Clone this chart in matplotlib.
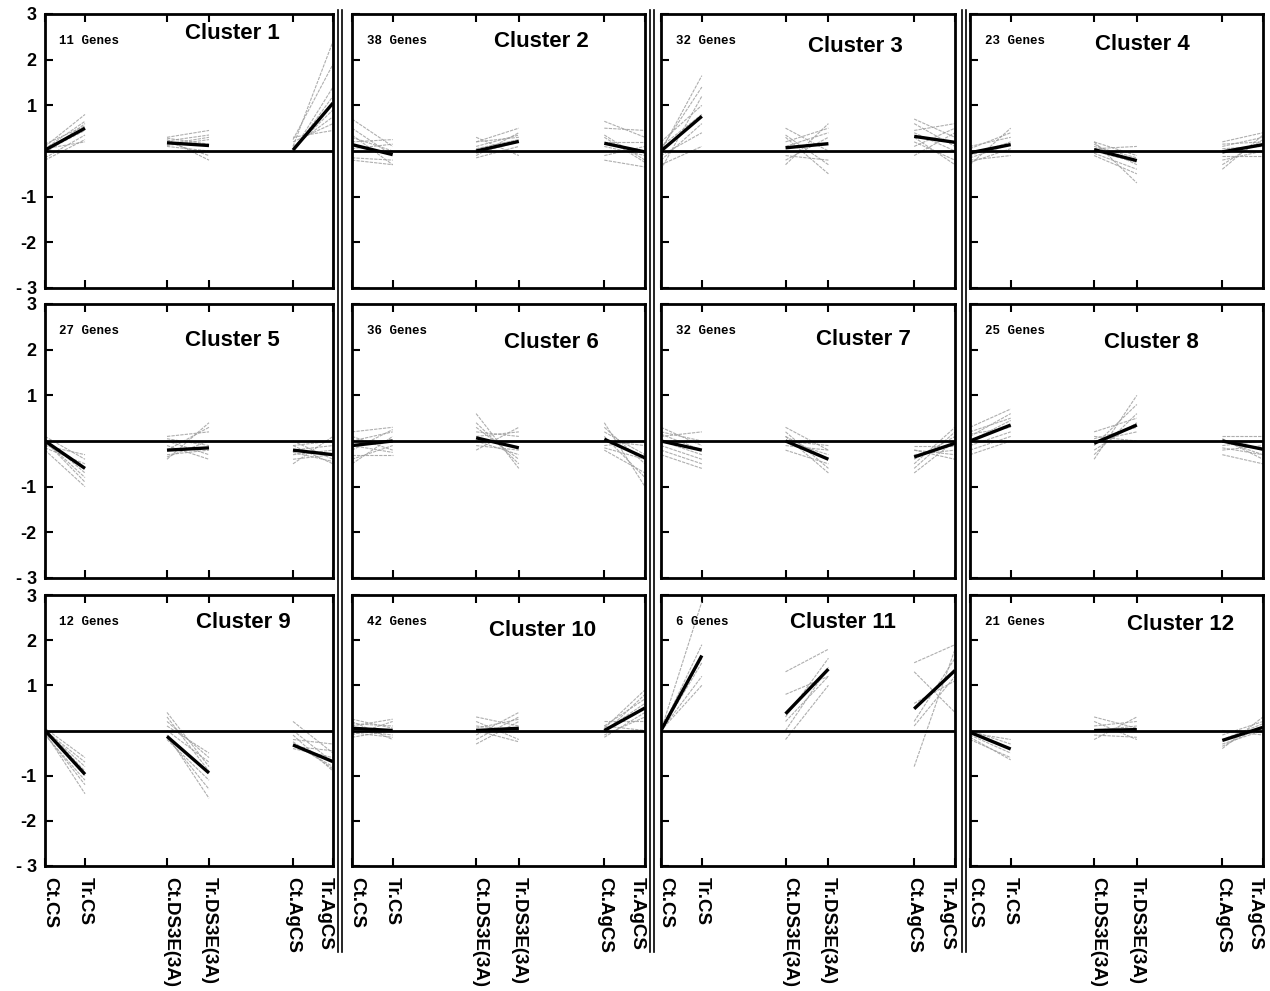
import numpy as np
import matplotlib
matplotlib.use("Agg")
import matplotlib.pyplot as plt
from matplotlib.lines import Line2D
from matplotlib.transforms import ScaledTranslation

conditions = ["Ct.CS", "Tr.CS", "Ct.DS3E(3A)", "Tr.DS3E(3A)", "Ct.AgCS", "Tr.AgCS"]
xpos = [0, 1, 3.05, 4.1, 6.2, 7.2]

gene_counts = [11, 38, 32, 23, 27, 36, 32, 25, 12, 42, 6, 21]

# mean profile of each cluster (black line)
means = [
    [0.02, 0.50, 0.18, 0.12, 0.02, 1.05],
    [0.14, -0.08, 0.00, 0.21, 0.17, -0.02],
    [0.00, 0.76, 0.07, 0.16, 0.32, 0.19],
    [-0.04, 0.14, 0.03, -0.21, -0.02, 0.14],
    [0.00, -0.60, -0.20, -0.15, -0.20, -0.30],
    [-0.10, 0.00, 0.07, -0.15, 0.04, -0.37],
    [0.00, -0.20, 0.00, -0.40, -0.35, -0.05],
    [0.00, 0.35, -0.05, 0.35, 0.00, -0.18],
    [0.00, -0.97, -0.13, -0.94, -0.32, -0.69],
    [0.05, 0.00, 0.00, 0.05, 0.00, 0.50],
    [0.00, 1.66, 0.37, 1.36, 0.48, 1.33],
    [-0.04, -0.41, 0.00, 0.02, -0.22, 0.07],
]

# individual gene profiles (grey lines), a readable subset per cluster
genes_01 = [[-0.15, 0.35, 0.25, -0.2, 0.1, 2.4], [0.1, 0.8, 0.3, 0.45, 0.25, 1.9],
            [0.05, 0.65, 0.15, 0.3, 0.0, 1.4], [-0.2, 0.25, 0.1, 0.0, 0.05, 0.9],
            [0.15, 0.55, 0.22, 0.35, 0.2, 0.6], [0.0, 0.45, 0.2, -0.1, 0.0, 1.2],
            [-0.05, 0.6, 0.12, 0.25, 0.3, 0.45], [0.05, 0.2, 0.28, 0.15, 0.1, 0.75]]
genes_02 = [[0.7, 0.1, -0.1, 0.4, 0.65, 0.3], [0.35, -0.3, 0.2, 0.5, 0.5, 0.45],
            [0.2, 0.25, -0.15, 0.1, -0.2, -0.35], [-0.15, -0.2, 0.1, 0.35, 0.3, -0.25],
            [0.3, 0.0, 0.3, -0.1, 0.2, 0.2], [-0.2, -0.3, 0.05, 0.25, 0.1, -0.1],
            [0.5, -0.1, 0.2, 0.3, -0.1, 0.1], [0.05, 0.15, -0.05, 0.2, 0.35, -0.2]]
genes_03 = [[0.0, 1.65, 0.3, -0.5, 0.7, 0.3], [-0.4, 1.2, -0.3, 0.6, 0.45, 0.6],
            [0.2, 1.0, 0.5, 0.0, 0.3, -0.3], [-0.1, 0.4, 0.1, 0.4, -0.1, 0.4],
            [0.1, 0.8, -0.2, 0.3, 0.6, 0.1], [-0.3, 0.1, 0.35, -0.3, 0.2, -0.2],
            [0.05, 1.4, 0.2, 0.5, 0.1, 0.5], [-0.2, 0.6, -0.1, -0.2, 0.4, 0.0]]
genes_04 = [[-0.3, 0.5, 0.2, -0.7, -0.4, 0.35], [0.1, 0.3, 0.15, -0.3, 0.15, 0.2],
            [-0.2, -0.1, -0.1, -0.5, -0.2, 0.0], [-0.1, 0.2, 0.05, 0.1, 0.2, 0.4],
            [-0.25, 0.05, 0.1, -0.15, -0.1, -0.1], [0.05, 0.4, -0.05, -0.4, 0.05, 0.1],
            [-0.15, 0.15, 0.2, -0.1, -0.3, 0.25], [0.0, 0.0, 0.0, -0.25, 0.1, 0.3]]
genes_05 = [[0.1, -0.4, -0.4, 0.4, -0.5, 0.1], [-0.2, -1.0, -0.1, -0.4, -0.1, -0.5],
            [0.0, -0.8, 0.1, 0.2, -0.3, -0.2], [-0.1, -0.3, -0.3, -0.2, 0.0, -0.4],
            [0.05, -0.7, -0.2, 0.3, -0.2, -0.1], [-0.15, -0.5, 0.0, -0.3, -0.4, -0.3],
            [0.0, -0.9, -0.35, 0.0, -0.1, 0.0], [-0.05, -0.6, 0.05, -0.1, -0.25, -0.45]]
genes_06 = [[-0.5, 0.1, 0.6, -0.6, 0.4, -1.0], [0.2, 0.3, -0.2, 0.3, 0.2, -0.3],
            [-0.3, -0.3, 0.3, -0.4, -0.2, -0.7], [0.0, 0.2, 0.1, 0.2, 0.0, -0.1],
            [-0.4, -0.1, -0.1, -0.2, 0.3, -0.5], [0.1, -0.2, 0.4, -0.5, -0.1, 0.0],
            [-0.2, 0.25, 0.2, 0.1, 0.1, -0.8], [-0.1, -0.25, 0.0, -0.3, -0.15, -0.4]]
genes_07 = [[0.3, -0.1, 0.3, -0.2, -0.6, 0.2], [-0.2, -0.5, 0.1, -0.7, -0.2, -0.3],
            [0.1, 0.2, -0.2, -0.5, -0.4, 0.1], [0.0, -0.3, 0.0, -0.3, -0.1, -0.1],
            [-0.3, -0.6, 0.2, -0.6, -0.5, 0.3], [0.2, 0.0, -0.1, -0.2, -0.3, -0.2],
            [-0.1, -0.4, 0.1, -0.4, -0.7, 0.0], [0.15, -0.2, 0.0, -0.1, -0.2, -0.4]]
genes_08 = [[-0.3, 0.0, -0.4, 1.0, -0.3, -0.5], [0.3, 0.7, 0.2, 0.5, 0.1, 0.1],
            [0.2, 0.5, -0.1, 0.8, 0.0, -0.3], [-0.1, 0.2, 0.0, 0.2, -0.2, -0.1],
            [0.1, 0.6, -0.2, 0.4, 0.05, -0.4], [-0.2, 0.1, 0.1, 0.0, -0.1, 0.0],
            [0.0, 0.45, -0.3, 0.6, 0.0, -0.2], [0.15, 0.3, 0.05, 0.3, -0.15, -0.3]]
genes_09 = [[-0.05, -1.4, 0.4, -0.8, 0.2, -0.5], [0.05, -0.6, -0.1, -1.5, -0.1, -0.9],
            [-0.1, -1.1, 0.2, -0.6, -0.4, -0.6], [0.0, -0.8, -0.2, -1.1, -0.2, -0.3],
            [0.02, -1.0, 0.1, -0.5, -0.3, -0.8], [-0.08, -1.2, -0.15, -1.3, 0.0, -0.7],
            [0.0, -0.7, 0.3, -0.9, -0.35, -0.45], [0.03, -0.9, 0.0, -0.7, -0.25, -0.85]]
genes_10 = [[0.2, -0.2, -0.2, 0.3, 0.05, 0.9], [-0.1, 0.2, 0.2, -0.2, -0.1, 0.3],
            [0.15, 0.1, -0.1, 0.4, 0.1, 0.7], [-0.05, -0.15, 0.3, 0.1, -0.15, 0.4],
            [0.25, 0.05, 0.0, -0.25, 0.0, 0.6], [0.0, -0.1, -0.3, 0.2, 0.2, 0.2],
            [0.1, 0.25, 0.1, 0.0, -0.05, 0.8], [-0.15, 0.0, 0.05, 0.25, 0.1, 0.0]]
genes_11 = [[0.0, 2.85, 1.3, 1.8, 1.5, 1.9], [0.0, 1.9, -0.2, 1.0, -0.8, 1.8],
            [0.0, 1.5, 0.3, 1.6, 0.6, 1.1], [0.0, 1.2, 0.0, 1.4, 1.3, 0.4],
            [0.0, 1.0, 0.8, 1.2, 0.2, 1.6], [0.0, 1.6, 0.2, 1.2, 0.1, 1.2]]
genes_12 = [[-0.2, -0.6, -0.2, 0.3, -0.4, 0.3], [0.0, -0.3, 0.2, -0.2, -0.3, 0.0],
            [-0.1, -0.5, 0.0, 0.1, -0.1, 0.2], [-0.05, -0.2, 0.3, 0.05, -0.35, 0.1],
            [-0.15, -0.65, -0.1, -0.15, 0.0, -0.1], [0.0, -0.4, 0.1, 0.2, -0.2, 0.15]]

genes = [genes_01, genes_02, genes_03, genes_04, genes_05, genes_06,
         genes_07, genes_08, genes_09, genes_10, genes_11, genes_12]

# layout in pixels (figure 1270 x 991)
W, H = 1270, 991
cols = [(45, 333), (352, 645), (661, 955), (970, 1263)]
rows = [(14, 288), (304, 578), (595, 866)]
title_pos = [(0.65, 0.93), (0.645, 0.90), (0.66, 0.88), (0.59, 0.89),
             (0.65, 0.865), (0.68, 0.86), (0.69, 0.87), (0.62, 0.86),
             (0.69, 0.90), (0.65, 0.87), (0.62, 0.90), (0.72, 0.89)]
label_nudge = [5, 0, 4, 0, 0, -8]  # px, end labels pulled inwards

narrow = ["Liberation Sans Narrow", "Liberation Sans", "DejaVu Sans"]
mono = ["Liberation Mono", "DejaVu Sans Mono"]
bold_sans = ["Liberation Sans", "DejaVu Sans"]

fig = plt.figure(figsize=(W / 100, H / 100), dpi=100)

for k in range(12):
    r, c = divmod(k, 4)
    x0, x1 = cols[c]
    y0, y1 = rows[r]
    ax = fig.add_axes([x0 / W, 1 - y1 / H, (x1 - x0) / W, (y1 - y0) / H])
    ax.set_xlim(0, 7.2)
    ax.set_ylim(-3, 3)

    for g in genes[k]:
        for s in range(3):
            ax.plot(xpos[2 * s:2 * s + 2], g[2 * s:2 * s + 2], color="#9a9a9a",
                    lw=0.8, alpha=0.8, ls=(0, (3, 1)))
    ax.axhline(0, color="black", lw=2)
    m = means[k]
    for s in range(3):
        ax.plot(xpos[2 * s:2 * s + 2], m[2 * s:2 * s + 2], color="black", lw=2.4,
                solid_capstyle="butt")

    for sp in ax.spines.values():
        sp.set_linewidth(2)

    ax.set_xticks(xpos)
    ax.set_yticks([-3, -2, -1, 1, 2, 3])
    ax.tick_params(axis="x", direction="in", top=True, bottom=True, length=6, width=1.5)
    ax.tick_params(axis="y", direction="in", left=True, right=False, length=6, width=1.5)

    if c == 0:
        ax.set_yticklabels(["- 3", "-2", "-1", "1", "2", "3"], family=bold_sans,
                           fontweight="bold", fontsize=13)
        ax.tick_params(axis="y", pad=6)
    else:
        ax.set_yticklabels([])
    if r == 2:
        ax.set_xticklabels(conditions, rotation=-90, family=narrow, fontweight="bold",
                           fontsize=13.5, va="top", ha="center")
        ax.tick_params(axis="x", pad=8)
        for lab, dx in zip(ax.get_xticklabels(), label_nudge):
            lab.set_transform(lab.get_transform() +
                              ScaledTranslation(dx / 100, 0, fig.dpi_scale_trans))
    else:
        ax.set_xticklabels([])

    ax.text(0.05, 0.9, f"{gene_counts[k]} Genes", transform=ax.transAxes, family=mono,
            fontweight="bold", fontsize=9, va="center", ha="left")
    tx, ty = title_pos[k]
    ax.text(tx, ty, f"Cluster {k + 1}", transform=ax.transAxes, family=narrow,
            fontweight="bold", fontsize=16, va="center", ha="center")

# column separators
for xs in (338, 342, 650, 654, 962, 966):
    fig.add_artist(Line2D([xs / W, xs / W], [1 - 10 / H, 1 - 952 / H],
                          color="black", lw=1.2))

fig.savefig("out.png", dpi=100, facecolor="white")
